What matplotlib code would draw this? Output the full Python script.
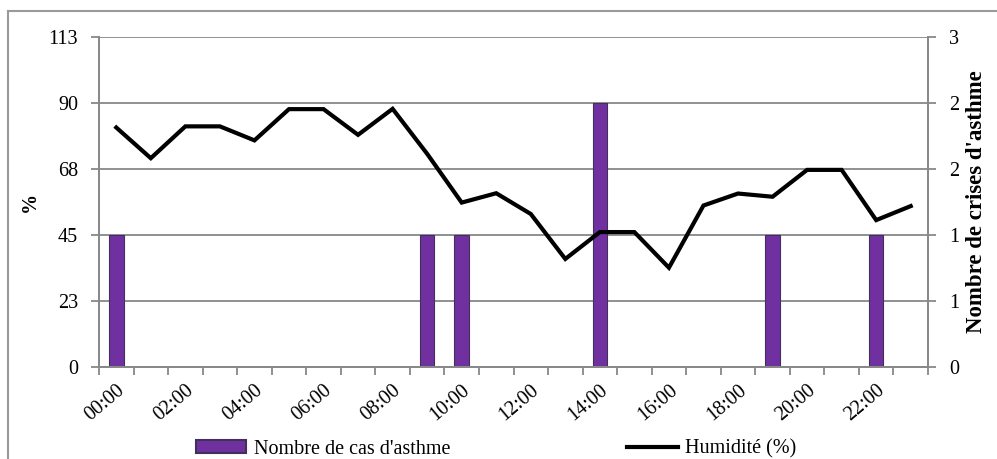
import matplotlib.pyplot as plt
from matplotlib.lines import Line2D
import numpy as np

### Data
hours = ["%02d:00" % h for h in range(24)]
humidite = [82.0, 71.5, 82.4, 82.4, 77.6, 88.3, 88.3, 79.5, 88.4, 73.0, 56.3, 59.5,
            52.4, 37.0, 46.2, 46.2, 34.0, 55.3, 59.4, 58.3, 67.5, 67.5, 50.3, 55.1]
cas_asthme = [1, 0, 0, 0, 0, 0, 0, 0, 0, 1, 1, 0,
              0, 0, 2, 0, 0, 0, 0, 1, 0, 0, 1, 0]
left_ticks = [0, 22.6, 45.2, 67.8, 90.4, 113]
right_ticks = [0, 0.5, 1, 1.5, 2, 2.5]

plt.rcParams['font.family'] = ['Liberation Serif', 'DejaVu Serif']
plt.rcParams['font.size'] = 14.5

grid_col = '#888888'
purple = '#7030A0'

fig = plt.figure(figsize=(9.97, 4.59), dpi=100)
fig.patch.set_facecolor('white')
ax = fig.add_axes([99/997, 92/459, 829/997, 330/459])
ax2 = ax.twinx()

x = np.arange(len(hours)) + 0.5

### bars on the right axis, drawn below the line
ax2.grid(axis='y', color=grid_col, linewidth=1.3, zorder=0)
ax2.set_axisbelow(True)
ax2.bar(x, cas_asthme, width=0.42, color=purple, edgecolor='#41305a', linewidth=0.8, zorder=2)
ax2.set_ylim(0, 2.5)
ax2.set_yticks(right_ticks)
ax2.set_yticklabels([str(int(np.floor(v + 0.5))) for v in right_ticks])
ax2.set_ylabel("Nombre de crises d'asthme", fontweight='bold', fontsize=16.5)
ax2.yaxis.set_label_coords((966 - 99) / 829, 0.5)
ax2.tick_params(axis='y', pad=9)

### humidity line on the left axis
ax.set_zorder(ax2.get_zorder() + 1)
ax.patch.set_visible(False)
ax.plot(x, humidite, color='black', linewidth=3, solid_joinstyle='miter', zorder=3)
ax.set_ylim(0, 113)
ax.set_yticks(left_ticks)
ax.set_yticklabels([str(int(round(v))) for v in left_ticks])
ax.set_ylabel('%', fontweight='bold')
ax.yaxis.set_label_coords((40 - 99) / 829, 0.5)
ax.tick_params(axis='y', pad=9)

ax.set_xlim(0, 24)
ax.set_xticks(np.arange(0, 25))
ax.set_xticklabels([])
ax.set_xticks(x[::2], minor=True)
ax.set_xticklabels(hours[::2], minor=True, rotation=40, ha='right', rotation_mode='anchor')
ax.tick_params(axis='x', which='minor', length=0, pad=10)

for a in (ax, ax2):
    for s in a.spines.values():
        s.set_color(grid_col)
        s.set_linewidth(1.3)
    a.spines['top'].set_visible(False)
    a.tick_params(which='major', color=grid_col, width=1.3, length=6)

# legend under the chart
handles = [plt.Rectangle((0, 0), 1, 1, facecolor=purple, edgecolor='#41305a', linewidth=1.5),
           Line2D([0], [0], color='black', linewidth=3)]
fig.legend(handles, ["Nombre de cas d'asthme", 'Humidité (%)'], loc='center',
           bbox_to_anchor=(496/997, 1 - 449/459), ncol=2, frameon=False,
           handlelength=2.5, handleheight=0.55, handletextpad=0.35, columnspacing=8.8)

# chart area frame
fig.add_artist(Line2D([8/997, 8/997], [0, 1 - 11/459], color='#9a9a9a', linewidth=1.5))
fig.add_artist(Line2D([8/997, 1], [1 - 11/459, 1 - 11/459], color='#9a9a9a', linewidth=1.5))

fig.savefig('out.png', dpi=100)
